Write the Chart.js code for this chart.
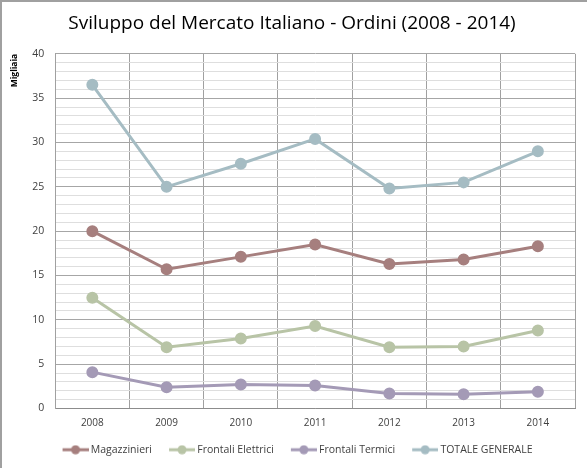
<!DOCTYPE html>
<html>
<head>
<meta charset="utf-8">
<script src="https://cdn.jsdelivr.net/npm/chart.js@4"></script>
<style>
  html, body { margin: 0; padding: 0; background: #fff; }
  #wrap {
    width: 585px; height: 466px;
    border-top: 2px solid #a0a0a0; border-left: 2px solid #a0a0a0;
    position: relative;
  }
</style>
</head>
<body>
<div id="wrap"><canvas id="chart"></canvas></div>
<script>
const years = ['2008', '2009', '2010', '2011', '2012', '2013', '2014'];
const magazzinieri = [20.0, 15.7, 17.1, 18.5, 16.3, 16.8, 18.3];
const frontaliElettrici = [12.5, 6.9, 7.9, 9.3, 6.9, 7.0, 8.8];
const frontaliTermici = [4.1, 2.4, 2.7, 2.6, 1.7, 1.6, 1.9];
const totaleGenerale = [36.5, 25.0, 27.6, 30.4, 24.8, 25.5, 29.0];

const seriesNames = ['Magazzinieri', 'Frontali Elettrici', 'Frontali Termici', 'TOTALE GENERALE'];
const seriesColors = ['#a67f7e', '#b8c4a6', '#a49ab6', '#a5bcc3'];

// little line+dot glyph for the legend, like the Excel one
// (blank strip on the left gives the spacing between legend items)
function legendGlyph(color) {
    const c = document.createElement('canvas');
    c.width = 40; c.height = 10;
    const g = c.getContext('2d');
    g.strokeStyle = color;
    g.lineWidth = 3;
    g.beginPath(); g.moveTo(14, 5); g.lineTo(40, 5); g.stroke();
    g.fillStyle = color;
    g.beginPath(); g.arc(27, 5, 4.5, 0, Math.PI * 2); g.fill();
    return c;
}

const values = [magazzinieri, frontaliElettrici, frontaliTermici, totaleGenerale];
const datasets = seriesNames.map((name, i) => ({
    label: name,
    data: values[i],
    borderColor: seriesColors[i],
    backgroundColor: seriesColors[i],
    borderWidth: 3,
    pointRadius: 4.5,
    pointHoverRadius: 4.5,
    tension: 0
}));

const font = "'Open Sans', 'DejaVu Sans', sans-serif";

new Chart(document.getElementById('chart'), {
    type: 'line',
    data: { labels: years, datasets: datasets },
    options: {
        responsive: true,
        maintainAspectRatio: false,
        animation: false,
        layout: { padding: { left: 7, right: 12, top: 0, bottom: 3 } },
        scales: {
            x: {
                offset: true,
                grid: { offset: true, color: '#a0a0a0', drawTicks: false },
                border: { color: '#8c8c8c' },
                ticks: { color: '#404040', font: { family: font, size: 10 }, padding: 9 }
            },
            y: {
                min: 0,
                max: 40,
                ticks: {
                    stepSize: 1,
                    autoSkip: false,
                    color: '#404040',
                    font: { family: font, size: 10.5 },
                    padding: 11,
                    callback: v => (v % 5 === 0 ? v : '')
                },
                grid: {
                    drawTicks: false,
                    color: ctx => (ctx.tick && ctx.tick.value % 5 === 0 ? '#a6a6a6' : '#dedede')
                },
                border: { color: '#a0a0a0' },
                title: {
                    display: true,
                    text: 'Migliaia',
                    align: 'end',
                    color: '#000',
                    font: { family: font, size: 8.5, weight: 'bold' },
                    padding: { top: 0, bottom: 2 }
                }
            }
        },
        plugins: {
            title: {
                display: true,
                text: 'Sviluppo del Mercato Italiano - Ordini (2008 - 2014)',
                color: '#000',
                font: { family: font, size: 19, weight: 'normal' },
                padding: { top: 10, bottom: 19 }
            },
            legend: {
                position: 'bottom',
                labels: {
                    usePointStyle: true,
                    pointStyleWidth: 34,
                    color: '#404040',
                    font: { family: font, size: 10.5 },
                    padding: 6,
                    generateLabels: chart => chart.data.datasets.map((ds, i) => ({
                        text: ds.label,
                        pointStyle: legendGlyph(ds.borderColor),
                        fillStyle: ds.borderColor,
                        strokeStyle: ds.borderColor,
                        lineWidth: 0,
                        hidden: false,
                        datasetIndex: i,
                        fontColor: '#404040'
                    }))
                }
            },
            tooltip: { enabled: false }
        }
    }
});
</script>
</body>
</html>
